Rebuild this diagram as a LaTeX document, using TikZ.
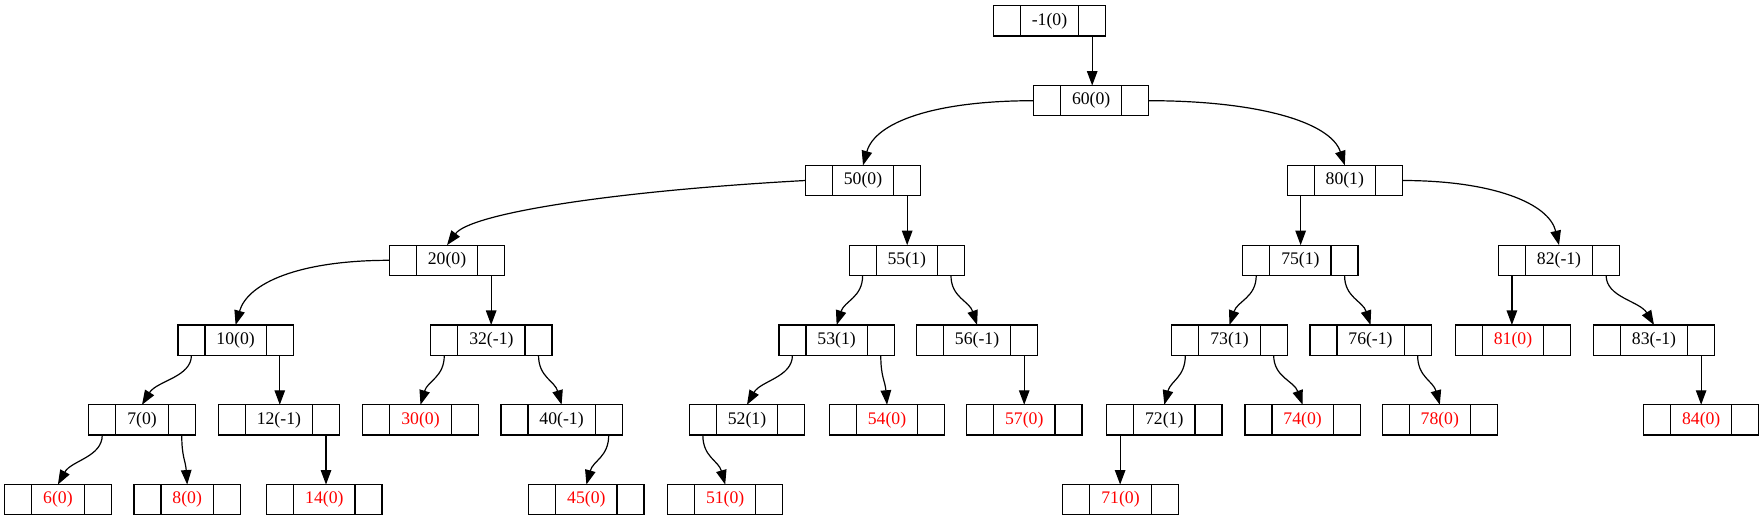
\documentclass[tikz,border=0pt]{standalone}
\usepackage{fontspec}
\setmainfont{Liberation Serif}
\usetikzlibrary{arrows.meta,calc}
\tikzset{
  scell/.style={draw, line width=1.2pt, minimum width=27pt, minimum height=30.3pt, inner sep=0pt, outer sep=0pt},
  dcell/.style={draw, line width=1.2pt, minimum height=30.3pt, inner xsep=11.5pt, inner ysep=0pt, outer sep=0pt,
    text height=12.3pt, text depth=3.8pt, font=\fontsize{17.7}{21}\selectfont},
  leaf/.style={text=red},
  inner/.style={text=black},
  conn/.style={line width=1.2pt, -{Triangle[length=14.5pt,width=10.5pt]}}
}
\newcommand{\recnode}[5]{%
  \node[dcell,#5] (#1) at (#2,{-20.9-79.8*#3}) {#4};
  \node[scell,anchor=east] (#1l) at (#1.west) {};
  \node[scell,anchor=west] (#1r) at (#1.east) {};}
\newcommand{\sedge}[2]{%
  \draw[conn] let \p1=(#1.south), \p2=(#2.north) in
    (\p1) .. controls (\x1,{\y1-22pt}) and ({\x2-0.3*(\x2-\x1)},{\y2+24pt}) .. (\p2);}
\newcommand{\vedge}[2]{%
  \draw[conn] let \p1=(#1.south), \p2=(#2.north) in (\p1) -- (\x1,\y2);}
\begin{document}
\begin{tikzpicture}[x=1pt,y=1pt]
\useasboundingbox (0,0) rectangle (1763,-523);
% level 0
\recnode{nm1}{1049.5}{0}{-1(0)}{inner}
% level 1
\recnode{n60}{1091.2}{1}{60(0)}{inner}
% level 2
\recnode{n50}{863}{2}{50(0)}{inner}
\recnode{n80}{1344.8}{2}{80(1)}{inner}
% level 3
\recnode{n20}{447}{3}{20(0)}{inner}
\recnode{n55}{906.8}{3}{55(1)}{inner}
\recnode{n75}{1300.4}{3}{75(1)}{inner}
\recnode{n82}{1559}{3}{82(-1)}{inner}
% level 4
\recnode{n10}{235.6}{4}{10(0)}{inner}
\recnode{n32}{491.4}{4}{32(-1)}{inner}
\recnode{n53}{836.6}{4}{53(1)}{inner}
\recnode{n56}{977.1}{4}{56(-1)}{inner}
\recnode{n73}{1229.5}{4}{73(1)}{inner}
\recnode{n76}{1370.5}{4}{76(-1)}{inner}
\recnode{n81}{1513}{4}{81(0)}{leaf}
\recnode{n83}{1654}{4}{83(-1)}{inner}
% level 5
\recnode{n7}{142}{5}{7(0)}{inner}
\recnode{n12}{278.9}{5}{12(-1)}{inner}
\recnode{n30}{420.5}{5}{30(0)}{leaf}
\recnode{n40}{561.6}{5}{40(-1)}{inner}
\recnode{n52}{747}{5}{52(1)}{inner}
\recnode{n54}{887}{5}{54(0)}{leaf}
\recnode{n57}{1024.3}{5}{57(0)}{leaf}
\recnode{n72}{1164.3}{5}{72(1)}{inner}
\recnode{n74}{1302.6}{5}{74(0)}{leaf}
\recnode{n78}{1439.8}{5}{78(0)}{leaf}
\recnode{n84}{1701.2}{5}{84(0)}{leaf}
% level 6
\recnode{n6}{57.9}{6}{6(0)}{leaf}
\recnode{n8}{187.2}{6}{8(0)}{leaf}
\recnode{n14}{324.4}{6}{14(0)}{leaf}
\recnode{n45}{586.4}{6}{45(0)}{leaf}
\recnode{n51}{725.2}{6}{51(0)}{leaf}
\recnode{n71}{1120.5}{6}{71(0)}{leaf}
% long edges from the sides
\draw[conn] (n60l.west) .. controls +(-100pt,0pt) and +(12pt,43pt) .. (n50.north);
\draw[conn] (n60r.east) .. controls +(110pt,0pt) and +(-14pt,43pt) .. (n80.north);
\draw[conn] (n50l.west) .. controls +(-200pt,-11pt) and +(23pt,31pt) .. (n20.north);
\draw[conn] (n80r.east) .. controls +(90pt,0pt) and +(-10pt,42pt) .. (n82.north);
\draw[conn] (n20l.west) .. controls +(-90pt,0pt) and +(12pt,42pt) .. (n10.north);
% straight edges from the bottoms of the port cells
\vedge{nm1r}{n60}
\vedge{n50r}{n55}
\vedge{n80l}{n75}
\vedge{n20r}{n32}
\vedge{n82l}{n81}
\vedge{n10r}{n12}
\vedge{n56r}{n57}
\vedge{n83r}{n84}
\vedge{n12r}{n14}
\vedge{n72l}{n71}
% curved edges from the bottoms of the port cells
\sedge{n55l}{n53}
\sedge{n55r}{n56}
\sedge{n75l}{n73}
\sedge{n75r}{n76}
\sedge{n82r}{n83}
\sedge{n10l}{n7}
\sedge{n32l}{n30}
\sedge{n32r}{n40}
\sedge{n53l}{n52}
\sedge{n53r}{n54}
\sedge{n73l}{n72}
\sedge{n73r}{n74}
\sedge{n76r}{n78}
\sedge{n7l}{n6}
\sedge{n7r}{n8}
\sedge{n40r}{n45}
\sedge{n52l}{n51}
\end{tikzpicture}
\end{document}
